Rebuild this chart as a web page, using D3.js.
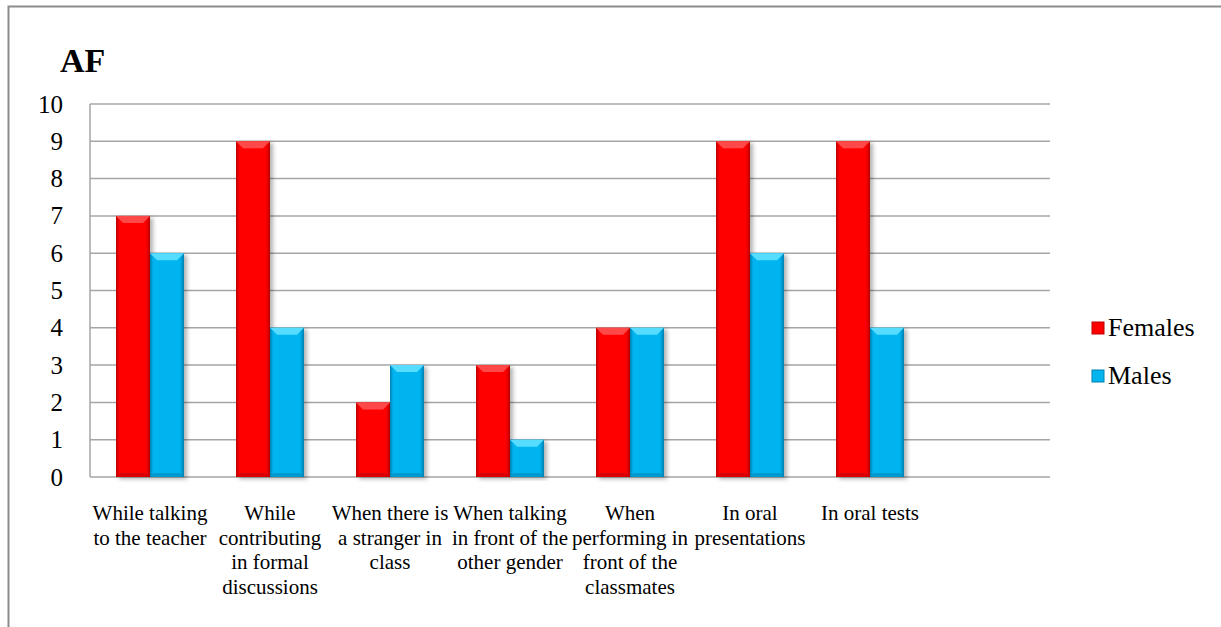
<!DOCTYPE html>
<head>
    <meta charset=utf-8>
    <title>AF chart</title>
    <script src="https://d3js.org/d3.v7.min.js"></script>
    <style>
        body { margin: 0; background: #ffffff; }
        svg text { font-family: "Times New Roman", Tinos, "Liberation Serif", "DejaVu Serif", serif; fill: #000000; }
        .grid line { stroke: #a6a6a6; stroke-width: 1.5; }
    </style>
</head>
<body>
    <div id="chart"></div>
    <script type="text/javascript">
        // data
        var categories = [
            "While talking\nto the teacher",
            "While\ncontributing\nin formal\ndiscussions",
            "When there is\na stranger in\nclass",
            "When talking\nin front of the\nother gender",
            "When\nperforming in\nfront of the\nclassmates",
            "In oral\npresentations",
            "In oral tests",
            ""
        ];
        var series = ["Females", "Males"];
        var females = [7, 9, 2, 3, 4, 9, 9, null];
        var males   = [6, 4, 3, 1, 4, 6, 4, null];
        var yTicks  = [0, 1, 2, 3, 4, 5, 6, 7, 8, 9, 10];

        var colors = {
            Females: { main: "#ff0000", edge: "#b80000", top: "#ff4a4a" },
            Males:   { main: "#00b4f0", edge: "#0080b0", top: "#55dcff" }
        };

        var serif = "'Times New Roman', Tinos, 'Liberation Serif', serif";

        var svg_dx = 1221, svg_dy = 627;
        var margin = {top: 104, right: 171, bottom: 150, left: 90};

        var svg = d3.select("#chart")
                .append("svg")
                .attr("width", svg_dx)
                .attr("height", svg_dy)
                .attr("font-family", serif);

        var defs = svg.append("defs");
        series.forEach(function(s) {
            var g = defs.append("linearGradient")
                .attr("id", "grad_" + s)
                .attr("x1", "0%").attr("x2", "100%").attr("y1", "0%").attr("y2", "0%");
            g.append("stop").attr("offset", "0%").attr("stop-color", colors[s].edge);
            g.append("stop").attr("offset", "10%").attr("stop-color", colors[s].main);
            g.append("stop").attr("offset", "88%").attr("stop-color", colors[s].main);
            g.append("stop").attr("offset", "100%").attr("stop-color", colors[s].edge);
        });
        var shadow = defs.append("filter").attr("id", "shadow")
            .attr("x", "-20%").attr("y", "-5%").attr("width", "150%").attr("height", "115%");
        shadow.append("feDropShadow")
            .attr("dx", 3).attr("dy", 2).attr("stdDeviation", 2)
            .attr("flood-color", "#000").attr("flood-opacity", 0.3);

        // frame
        svg.append("path")
            .attr("d", "M8.5," + svg_dy + " V6.5 H" + svg_dx)
            .attr("fill", "none")
            .attr("stroke", "#8c8c8c")
            .attr("stroke-width", 2);

        var x0 = d3.scaleBand()
            .domain(d3.range(categories.length))
            .range([margin.left, svg_dx - margin.right])
            .paddingInner(0).paddingOuter(0);

        var x1 = d3.scaleBand()
            .domain(series)
            .range([0, x0.bandwidth()])
            .paddingInner(0).paddingOuter(0.765);

        var y = d3.scaleLinear()
            .domain([0, 10])
            .range([svg_dy - margin.bottom, margin.top]);

        // gridlines
        svg.append("g")
            .attr("class", "grid")
            .selectAll("line")
            .data(yTicks)
            .enter()
            .append("line")
            .attr("x1", margin.left)
            .attr("x2", svg_dx - margin.right)
            .attr("y1", d => y(d))
            .attr("y2", d => y(d));

        svg.append("line")
            .attr("x1", margin.left).attr("x2", margin.left)
            .attr("y1", y(0)).attr("y2", y(10))
            .attr("stroke", "#a6a6a6").attr("stroke-width", 1.5);

        // y axis labels
        var axis_y = d3.axisLeft(y).tickValues(yTicks).tickSize(0).tickPadding(27);
        var gy = svg.append("g")
            .attr("transform", "translate(" + margin.left + ",0)")
            .call(axis_y)
            .attr("font-family", serif)
            .attr("font-size", 25);
        gy.select(".domain").remove();
        gy.selectAll("text").attr("fill", "#000");

        svg.append("text")
            .attr("x", 60)
            .attr("y", 72)
            .attr("font-size", 34)
            .attr("font-weight", "bold")
            .text("AF");

        // bars
        var rows = [];
        categories.forEach(function(c, i) {
            if (females[i] != null) rows.push({i: i, s: "Females", v: females[i]});
            if (males[i] != null) rows.push({i: i, s: "Males", v: males[i]});
        });

        var bars = svg.append("g")
            .selectAll("g")
            .data(rows)
            .enter()
            .append("g")
            .attr("filter", "url(#shadow)");

        bars.append("rect")
            .attr("x", d => x0(d.i) + x1(d.s))
            .attr("y", d => y(d.v))
            .attr("width", x1.bandwidth())
            .attr("height", d => y(0) - y(d.v))
            .attr("fill", d => "url(#grad_" + d.s + ")");

        // top bevel
        bars.append("path")
            .attr("d", function(d) {
                var xl = x0(d.i) + x1(d.s), xr = xl + x1.bandwidth(), yt = y(d.v), b = 7;
                return "M" + xl + "," + yt + " L" + xr + "," + yt +
                       " L" + (xr - b) + "," + (yt + b) + " L" + (xl + b) + "," + (yt + b) + " Z";
            })
            .attr("fill", d => colors[d.s].top);

        // bottom bevel
        bars.append("path")
            .attr("d", function(d) {
                var xl = x0(d.i) + x1(d.s), xr = xl + x1.bandwidth(), yb = y(0), b = 4;
                return "M" + xl + "," + yb + " L" + xr + "," + yb +
                       " L" + (xr - b) + "," + (yb - b) + " L" + (xl + b) + "," + (yb - b) + " Z";
            })
            .attr("fill", d => colors[d.s].edge)
            .attr("opacity", 0.5);

        // category labels
        var labels = svg.append("g")
            .selectAll("text")
            .data(categories)
            .enter()
            .append("text")
            .attr("text-anchor", "middle")
            .attr("font-size", 21)
            .attr("transform", (d, i) => "translate(" + (x0(i) + x0.bandwidth() / 2) + "," + 520 + ")");

        labels.selectAll("tspan")
            .data(d => d ? d.split("\n") : [])
            .enter()
            .append("tspan")
            .attr("x", 0)
            .attr("dy", (d, j) => j === 0 ? 0 : 24.5)
            .text(d => d);

        // legend
        var legend = svg.append("g")
            .selectAll("g")
            .data(series)
            .enter()
            .append("g")
            .attr("transform", (d, i) => "translate(1092," + (322 + i * 48) + ")");

        legend.append("rect")
            .attr("width", 12).attr("height", 12)
            .attr("fill", d => colors[d].main)
            .attr("stroke", d => colors[d].edge)
            .attr("stroke-width", 1);

        legend.append("text")
            .attr("x", 16)
            .attr("y", 14)
            .attr("font-size", 26)
            .text(d => d);
    </script>
</body>
